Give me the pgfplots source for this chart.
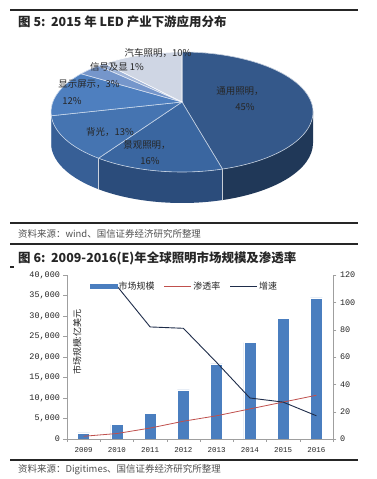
\documentclass[border=0pt]{standalone}
\usepackage{pgfplots}
\pgfplotsset{compat=1.18}
\usepackage{fontspec}
\setmainfont{Liberation Sans}
\newfontfamily\cjk{Noto Sans CJK SC}
\newfontfamily\mono{Liberation Mono}
\definecolor{c1}{HTML}{34588A}
\definecolor{c1s}{HTML}{203858}
\definecolor{c2}{HTML}{3A66A0}
\definecolor{c2s}{HTML}{2B4C7B}
\definecolor{c3}{HTML}{4574B1}
\definecolor{c3s}{HTML}{375F96}
\definecolor{c4}{HTML}{4E7FBF}
\definecolor{c4s}{HTML}{3E6AA3}
\definecolor{c5}{HTML}{7596CB}
\definecolor{c6}{HTML}{A2B6D9}
\definecolor{c7}{HTML}{CFD6E4}
\definecolor{barblue}{HTML}{4A7EBF}
\definecolor{pen}{HTML}{C0504D}
\definecolor{gro}{HTML}{1F2D4A}
\definecolor{txt}{HTML}{262626}
\begin{document}
\begin{tikzpicture}
\path[use as bounding box] (0,0) rectangle (377bp,479bp);
\fill[white] (0,0) rectangle (377bp,479bp);
\begin{scope}[x=1bp,y=1bp]
  \draw[line width=1.6bp, black!85] (10,469) -- (358,469);
  \node[anchor=west, font=\cjk\bfseries\fontsize{12.5}{14}\selectfont, text=txt, inner sep=0] at (18,457) {图 5:\ \ 2015 年 LED 产业下游应用分布};
  \draw[line width=1.6bp, black!85] (10,256) -- (358,256);
  \node[anchor=west, font=\cjk\fontsize{9.5}{11}\selectfont, text=txt!80, inner sep=0] at (18,245) {资料来源：wind、国信证券经济研究所整理};
  \draw[line width=1.6bp, black!85] (10,235) -- (358,235);
  \node[anchor=west, font=\cjk\bfseries\fontsize{12.5}{14}\selectfont, text=txt, inner sep=0] at (18,221) {图 6:\ \ 2009-2016(E)年全球照明市场规模及渗透率};
  \draw[line width=1.2bp, black!85] (10,212) -- (14,212);
  \draw[line width=1.6bp, black!85] (10,19) -- (358,19);
  \node[anchor=west, font=\cjk\fontsize{9.5}{11}\selectfont, text=txt!80, inner sep=0] at (18,9) {资料来源：Digitimes、国信证券经济研究所整理};
\end{scope}

% ---------- pie chart (shares in %: 45,16,13,12,3,1,10) ----------
\begin{axis}[at={(0,0)}, anchor=south west, x=1bp, y=1bp,
  xmin=0, xmax=377, ymin=0, ymax=479, hide axis, clip=false]
  % side walls (front half)
  \fill[c4s] (axis cs:{182+131*cos(180)},{367+60*sin(180)}) arc[start angle=180, end angle=183.6, x radius=131bp, y radius=60bp] -- ++(0,-31bp) arc[start angle=183.6, end angle=180, x radius=131bp, y radius=60bp] -- cycle;
  \fill[c3s] (axis cs:{182+131*cos(183.6)},{367+60*sin(183.6)}) arc[start angle=183.6, end angle=230.4, x radius=131bp, y radius=60bp] -- ++(0,-31bp) arc[start angle=230.4, end angle=183.6, x radius=131bp, y radius=60bp] -- cycle;
  \fill[c2s] (axis cs:{182+131*cos(230.4)},{367+60*sin(230.4)}) arc[start angle=230.4, end angle=288, x radius=131bp, y radius=60bp] -- ++(0,-31bp) arc[start angle=288, end angle=230.4, x radius=131bp, y radius=60bp] -- cycle;
  \fill[c1s] (axis cs:{182+131*cos(288)},{367+60*sin(288)}) arc[start angle=288, end angle=360, x radius=131bp, y radius=60bp] -- ++(0,-31bp) arc[start angle=360, end angle=288, x radius=131bp, y radius=60bp] -- cycle;
  \draw[white!75!c2s, line width=0.6bp] (axis cs:{182+131*cos(230.4)},{367+60*sin(230.4)}) -- ++(0,-31bp);
  \draw[white!75!c1s, line width=0.6bp] (axis cs:{182+131*cos(288)},{367+60*sin(288)}) -- ++(0,-31bp);
  % top faces
  \filldraw[fill=c1, draw=white!70!c1, line width=0.6bp] (axis cs:182,377) -- (axis cs:{182+131*cos(-72)},{367+60*sin(-72)}) arc[start angle=-72, end angle=90, x radius=131bp, y radius=60bp] -- cycle;
  \filldraw[fill=c2, draw=white!70!c2, line width=0.6bp] (axis cs:182,377) -- (axis cs:{182+131*cos(230.4)},{367+60*sin(230.4)}) arc[start angle=230.4, end angle=288, x radius=131bp, y radius=60bp] -- cycle;
  \filldraw[fill=c3, draw=white!70!c3, line width=0.6bp] (axis cs:182,377) -- (axis cs:{182+131*cos(183.6)},{367+60*sin(183.6)}) arc[start angle=183.6, end angle=230.4, x radius=131bp, y radius=60bp] -- cycle;
  \filldraw[fill=c4, draw=white!70!c4, line width=0.6bp] (axis cs:182,377) -- (axis cs:{182+131*cos(140.4)},{367+60*sin(140.4)}) arc[start angle=140.4, end angle=183.6, x radius=131bp, y radius=60bp] -- cycle;
  \filldraw[fill=c5, draw=white!70!c5, line width=0.6bp] (axis cs:182,377) -- (axis cs:{182+131*cos(129.6)},{367+60*sin(129.6)}) arc[start angle=129.6, end angle=140.4, x radius=131bp, y radius=60bp] -- cycle;
  \filldraw[fill=c6, draw=white!70!c6, line width=0.6bp] (axis cs:182,377) -- (axis cs:{182+131*cos(126)},{367+60*sin(126)}) arc[start angle=126, end angle=129.6, x radius=131bp, y radius=60bp] -- cycle;
  \filldraw[fill=c7, draw=white, line width=0.6bp] (axis cs:182,377) -- (axis cs:{182+131*cos(90)},{367+60*sin(90)}) arc[start angle=90, end angle=126, x radius=131bp, y radius=60bp] -- cycle;
  % labels
  \begin{scope}[every node/.style={font=\cjk\fontsize{9.5}{10}\selectfont, text=txt, inner sep=0}]
    \node at (axis cs:158,426) {汽车照明，10\%};
    \node at (axis cs:117,412) {信号及显 1\%};
    \node at (axis cs:89,395) {显示屏示，3\%};
    \node at (axis cs:72,378) {12\%};
    \node at (axis cs:110,347) {背光，13\%};
    \node at (axis cs:147,334) {景观照明，};
    \node at (axis cs:150,318) {16\%};
    \node at (axis cs:240,388) {通用照明，};
    \node at (axis cs:245,372) {45\%};
  \end{scope}
\end{axis}

% ---------- bar chart: market size ----------
\begin{axis}[at={(67bp,40bp)}, anchor=south west, scale only axis,
  width=266bp, height=164bp,
  xmin=-0.5, xmax=7.5, ymin=0, ymax=40000,
  axis x line*=bottom, axis y line*=left,
  axis line style={draw=gray!75, line width=0.7bp},
  xtick={0,...,7},
  xticklabels={2009,2010,2011,2012,2013,2014,2015,2016},
  major x tick style={draw=none},
  minor xtick={-0.5,0.5,...,7.5},
  minor x tick style={draw=gray!75},
  minor tick length=3bp,
  ytick={0,5000,...,40000},
  scaled y ticks=false,
  tick align=outside, major tick length=3.5bp,
  major y tick style={draw=gray!75},
  yticklabel style={font=\mono\fontsize{8.5}{9}\selectfont, text=txt},
  xticklabel style={font=\mono\fontsize{7.5}{8}\selectfont, text=txt, yshift=-1bp},
  /pgf/number format/.cd, 1000 sep={,}, assume math mode=true,
]
\addplot[ybar, bar width=12bp, fill=barblue, draw=white, line width=0.4bp]
  coordinates {(0,1500) (1,3500) (2,6300) (3,12000) (4,18300) (5,23500) (6,29500) (7,34400)};
\node[rotate=90, font=\cjk\fontsize{9}{10}\selectfont, text=txt] at (rel axis cs:0.038,0.59) {市场规模:亿美元};
\end{axis}

% ---------- lines: penetration and growth ----------
\begin{axis}[at={(67bp,40bp)}, anchor=south west, scale only axis,
  width=266bp, height=164bp,
  xmin=-0.5, xmax=7.5, ymin=0, ymax=120,
  axis x line=none, axis y line*=right,
  axis line style={draw=gray!75, line width=0.7bp},
  ytick={0,20,...,120},
  tick align=outside, major tick length=3.5bp,
  major y tick style={draw=gray!75},
  yticklabel style={font=\mono\fontsize{8.5}{9}\selectfont, text=txt},
  legend style={at={(0.085,0.933)}, anchor=west, draw=none, fill=none,
    legend columns=3, inner sep=0pt,
    font=\cjk\fontsize{9}{10}\selectfont, text=txt,
    nodes={inner sep=1.5bp},
    /tikz/every even column/.append style={column sep=8bp}},
  legend image code/.code={\draw (0bp,0bp) -- (27bp,0bp);},
  /pgf/number format/assume math mode=true,
]
\addlegendimage{legend image code/.code={\fill[barblue] (0bp,-2bp) rectangle (27bp,2bp);}}
\addlegendentry{市场规模}
\addplot[pen, line width=0.8bp] coordinates {(0,2) (1,4) (2,8) (3,13) (4,17) (5,22) (6,27) (7,32)};
\addlegendentry{渗透率}
\addplot[gro, line width=0.9bp] coordinates {(1,112) (2,82) (3,81) (4,56) (5,30) (6,27) (7,17)};
\addlegendentry{增速}
\end{axis}
\end{tikzpicture}
\end{document}
